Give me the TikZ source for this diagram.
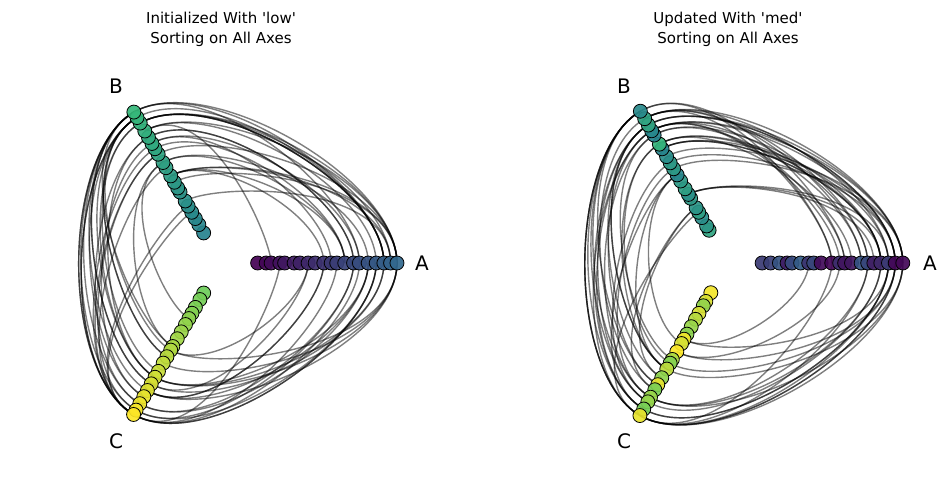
\documentclass[tikz,border=0pt]{standalone}
\usepackage{fontspec}
\newfontfamily\dv{DejaVu Sans}
\usetikzlibrary{calc}
\definecolor{v0}{RGB}{68,1,84}
\definecolor{v3}{RGB}{49,104,142}
\definecolor{v4}{RGB}{38,130,142}
\definecolor{v6}{RGB}{53,183,121}
\definecolor{v7}{RGB}{109,205,89}
\definecolor{v9}{RGB}{253,231,37}
\colorlet{A1}{v0}\colorlet{A2}{v3}
\colorlet{B1}{v4}\colorlet{B2}{v6}
\colorlet{C1}{v7}\colorlet{C2}{v9}
\tikzset{
 dot/.style={circle,draw=black,line width=0.8pt,minimum size=14pt,inner sep=0pt,fill opacity=0.92},
 edge/.style={black,opacity=0.5,line width=1.4pt},
 axlab/.style={font=\dv\fontsize{20}{20}\selectfont},
 ttl/.style={align=center,font=\dv\fontsize{15}{20}\selectfont}
}
\begin{document}
\begin{tikzpicture}[x=1pt,y=-1pt]
\useasboundingbox (0,0) rectangle (950,485);
\pgfmathsetseed{11}
\foreach \p/\cx in {L/221,R/728}{
 \foreach \ax/\ang in {A/0,B/-120,C/120}{
  \foreach \i in {1,...,20}{
   \pgfmathsetmacro\r{36+(\i-1)*140/19+rnd*4-2}
   \expandafter\xdef\csname r\p\ax\i\endcsname{\r}
   \coordinate (\p-\ax-\i) at ($(\cx,263)+(\ang:\r)$);
  }}
 \foreach \k in {1,...,75}{
  \pgfmathrandominteger{\pr}{1}{3}
  \pgfmathsetmacro\i{int(20-floor(rnd*rnd*19))}
  \pgfmathsetmacro\j{int(20-floor(rnd*rnd*19))}
  \ifcase\pr\or
   \def\fa{A}\def\fb{B}\def\aa{-26}\def\ab{-94}\or
   \def\fa{A}\def\fb{C}\def\aa{26}\def\ab{94}\or
   \def\fa{B}\def\fb{C}\def\aa{-146}\def\ab{146}\fi
  \edef\ra{\csname r\p\fa\i\endcsname}
  \edef\rb{\csname r\p\fb\j\endcsname}
  \draw[edge] (\p-\fa-\i) .. controls ($(\cx,263)+(\aa:1.11*\ra)$) and ($(\cx,263)+(\ab:1.11*\rb)$) .. (\p-\fb-\j);
 }
 \foreach \ax in {A,B,C}{
  \foreach \i in {1,...,20}{
   \if\p L\pgfmathsetmacro\t{int((\i-1)*100/19)}\else\pgfmathsetmacro\t{int(rnd*100)}\fi
   \node[dot,fill=\ax2!\t!\ax1] (\p\ax n\i) at (\p-\ax-\i) {};
  }}
}
\node[axlab] (LA) at (422,263) {A};
\node[axlab] (LB) at (116,86) {B};
\node[axlab] (LC) at (116,441) {C};
\node[axlab] (RA) at (930,263) {A};
\node[axlab] (RB) at (624,86) {B};
\node[axlab] (RC) at (624,441) {C};
\node[ttl] (T1) at (221,29) {Initialized With 'low'\\Sorting on All Axes};
\node[ttl] (T2) at (728,29) {Updated With 'med'\\Sorting on All Axes};
\end{tikzpicture}
\end{document}
